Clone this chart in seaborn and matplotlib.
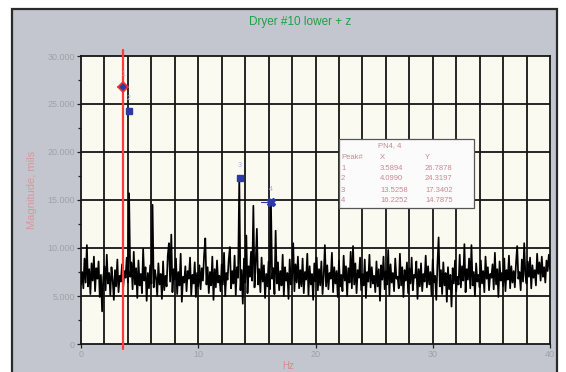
"""
Vibration spectrum recreation: Dryer #10 lower + z
"""

import numpy as np
import pandas as pd
import matplotlib
matplotlib.use("Agg")
import matplotlib.pyplot as plt
from matplotlib.patches import Rectangle
from matplotlib.ticker import FuncFormatter, MultipleLocator
import seaborn as sns

# ---- data -------------------------------------------------------------
# spectrum magnitude (thousands of mils), one value every 0.1 Hz from 0 to 40 Hz
mag_k = [
    6.2, 7.5, 5.8, 8.9, 6.4, 10.3, 6.0, 7.8, 5.2, 8.4,
    6.6, 9.1, 5.5, 7.9, 6.8, 8.6, 4.9, 7.2, 3.4, 6.9,
    8.1, 5.6, 9.3, 6.3, 7.4, 5.1, 8.0, 6.7, 4.6, 7.7,
    6.0, 8.8, 5.4, 7.1, 6.5, 8.3, 5.9, 7.6, 6.9, 9.0,
    6.4, 15.7, 7.0, 8.5, 5.7, 9.6, 6.2, 7.9, 4.8, 8.7,
    6.1, 7.3, 5.3, 9.9, 6.6, 8.0, 4.5, 7.4, 5.8, 8.2,
    6.3, 14.5, 5.9, 7.7, 6.9, 5.0, 8.4, 6.2, 7.3, 4.7,
    8.6, 5.6, 7.1, 6.0, 9.2, 10.5, 6.5, 11.4, 5.4, 7.8,
    6.7, 8.9, 5.2, 7.5, 6.1, 9.4, 4.4, 7.0, 6.4, 8.1,
    5.5, 7.6, 6.8, 9.0, 5.1, 7.2, 6.3, 8.5, 4.9, 7.4,
    6.0, 8.2, 5.7, 7.9, 6.6, 9.3, 11.0, 6.2, 8.0, 5.3,
    7.5, 6.1, 9.1, 4.6, 7.8, 5.9, 8.7, 6.4, 7.1, 5.5,
    8.3, 6.2, 9.5, 5.0, 7.4, 6.7, 8.8, 10.1, 5.8, 7.6,
    6.3, 9.2, 5.1, 8.0, 6.9, 17.3, 5.6, 7.7, 4.2, 8.9,
    6.4, 11.3, 5.3, 8.1, 7.0, 9.6, 6.6, 14.4, 5.9, 8.4,
    12.0, 6.2, 7.8, 5.4, 9.0, 6.5, 8.2, 4.8, 7.3, 6.0,
    8.6, 5.7, 14.8, 6.8, 7.9, 5.2, 11.8, 6.3, 8.5, 5.6,
    7.6, 6.1, 9.3, 5.0, 8.0, 6.6, 7.4, 4.7, 8.8, 6.2,
    7.0, 10.5, 5.5, 8.3, 6.4, 9.1, 5.8, 7.7, 6.0, 8.9,
    5.3, 7.5, 6.7, 9.4, 5.1, 8.1, 6.2, 7.3, 4.6, 8.4,
    6.5, 9.0, 5.6, 7.8, 6.1, 8.6, 5.2, 7.1, 10.3, 6.0,
    8.2, 5.7, 7.4, 6.8, 9.5, 5.4, 8.0, 6.3, 7.6, 4.9,
    8.7, 6.0, 7.2, 5.5, 9.2, 6.6, 8.1, 5.0, 7.9, 6.4,
    9.6, 5.8, 10.2, 6.2, 8.4, 5.3, 7.7, 6.9, 9.0, 5.6,
    7.3, 6.1, 8.8, 4.8, 7.5, 6.5, 9.3, 5.9, 8.0, 6.3,
    7.1, 5.4, 8.6, 6.0, 7.8, 4.5, 8.2, 6.7, 9.1, 5.7,
    7.6, 6.2, 9.8, 5.1, 8.3, 6.4, 7.4, 5.5, 8.9, 6.8,
    7.0, 5.8, 9.4, 6.1, 8.0, 4.9, 7.7, 6.6, 8.5, 5.3,
    7.9, 6.3, 9.0, 5.6, 7.2, 6.9, 8.6, 4.7, 7.8, 6.0,
    8.4, 5.5, 7.3, 6.5, 9.2, 5.9, 8.1, 6.2, 7.5, 5.0,
    8.8, 6.4, 7.1, 4.6, 8.3, 11.1, 6.0, 7.7, 5.2, 8.5,
    6.1, 7.4, 4.4, 8.0, 5.7, 7.2, 3.9, 7.9, 6.3, 8.7,
    5.5, 7.0, 6.2, 9.3, 5.9, 8.1, 6.6, 10.4, 5.4, 7.8,
    6.7, 8.9, 5.8, 10.3, 6.1, 7.5, 5.0, 8.4, 6.5, 7.2,
    5.9, 8.7, 6.3, 7.6, 5.4, 9.1, 6.8, 8.0, 5.6, 7.3,
    6.9, 8.3, 5.7, 9.5, 6.2, 7.8, 4.9, 8.6, 6.6, 7.4,
    6.0, 8.9, 5.5, 7.7, 6.7, 9.2, 5.8, 8.1, 6.4, 7.6,
    5.9, 8.4, 10.2, 6.8, 7.5, 5.6, 8.8, 6.5, 10.5, 7.2,
    6.3, 8.6, 7.0, 9.0, 5.8, 8.2, 6.9, 7.7, 6.1, 9.4,
    7.3, 8.5, 6.6, 9.1, 7.0, 8.0, 6.4, 8.7, 7.6, 9.3,
    7.8,
]
freq_hz = [i / 10 for i in range(len(mag_k))]

# peak list (PN4, 4)
peak_ids = ["1", "2", "3", "4"]
peak_x = [3.5894, 4.0990, 13.5258, 16.2252]
peak_y = [26.7878, 24.3197, 17.3402, 14.7875]  # thousands

cursor_hz = 3.5894

# ---- figure -----------------------------------------------------------
W, H = 566, 372


def fx(px):
    return px / W


def fy(py):
    return 1 - py / H


sns.set_style("ticks")
plt.rcParams["font.family"] = ["Liberation Sans", "DejaVu Sans"]

fig = plt.figure(figsize=(W / 100, H / 100), dpi=100)
fig.patch.set_facecolor("white")

# gray panel with dark frame (behind the axes)
fig.patches.append(Rectangle((fx(12), -0.05), fx(557) - fx(12), fy(9) + 0.05,
                             transform=fig.transFigure, facecolor="#c3c6ce",
                             edgecolor="#2a2a2a", lw=1.6, zorder=-5))

ax = fig.add_axes([fx(81), fy(344), fx(550) - fx(81), fy(56) - fy(344)])
ax.set_facecolor("#fafaf1")

df = pd.DataFrame({"Hz": freq_hz, "mag": np.array(mag_k) * 1000})
sns.lineplot(data=df, x="Hz", y="mag", ax=ax, color="black", lw=1.25, zorder=3)

ax.set_xlim(0, 40)
ax.set_ylim(0, 30000)

# grid: every 2 Hz and every 5000
ax.xaxis.set_major_locator(MultipleLocator(10))
ax.xaxis.set_minor_locator(MultipleLocator(2))
ax.yaxis.set_major_locator(MultipleLocator(5000))
ax.yaxis.set_minor_locator(MultipleLocator(2500))
for gx in np.arange(2, 40, 2):
    ax.axvline(gx, color="#151515", lw=1.3, zorder=1)
for gy in np.arange(5000, 30000, 5000):
    ax.axhline(gy, color="#151515", lw=1.3, zorder=1)

for s in ax.spines.values():
    s.set_color("#151515")
    s.set_linewidth(1.3)

ax.yaxis.set_major_formatter(FuncFormatter(lambda v, p: f"{v:,.0f}".replace(",", ".")))
ax.tick_params(axis="both", which="major", length=3, width=0.9, color="#222222",
               labelsize=6.5, labelcolor="#a0a0a8", pad=1.5)
ax.tick_params(axis="y", which="minor", length=2, width=0.9, color="#222222")
ax.tick_params(axis="x", which="minor", length=0)
ax.set_xlabel("")
ax.set_ylabel("")

# cursor
ax.axvline(cursor_hz, ymin=-0.018, ymax=1.02, color="#ff3b3b", lw=1.6,
           clip_on=False, zorder=4)

# peak markers
ax.plot(peak_x[0], peak_y[0] * 1000, marker="D", ms=5, mfc="#2b3aa8",
        mec="#f03030", mew=1.2, zorder=6)
ax.plot([peak_x[0] - 0.4, peak_x[0] + 0.4], [peak_y[0] * 1000] * 2,
        color="#f03030", lw=1.4, zorder=5)
ax.plot(peak_x[1], peak_y[1] * 1000, marker="s", ms=4.5, color="#2b3aa8", zorder=6)
ax.plot(peak_x[2], peak_y[2] * 1000, marker="s", ms=4.5, color="#2b3aa8", zorder=6)
ax.plot(peak_x[3], peak_y[3] * 1000, marker="X", ms=6, color="#2b3aa8", zorder=6)
ax.plot([peak_x[3] - 0.9, peak_x[3]], [peak_y[3] * 1000] * 2,
        color="#2b3aa8", lw=0.8, zorder=5)
for pid, px_, py_ in zip(peak_ids, peak_x, peak_y):
    ax.text(px_, py_ * 1000 + 900, pid, color="#a9b3e6", fontsize=5,
            ha="center", va="bottom", zorder=6)

# titles / labels
fig.text(fx(300), fy(22), "Dryer #10 lower + z", color="#1ea045", fontsize=8.5,
         ha="center", va="center")
fig.text(fx(32), fy(190), "Magnitude, mils", color="#d49a9a", fontsize=8,
         rotation=90, ha="center", va="center")
fig.text(fx(288), fy(366), "Hz", color="#d88a8a", fontsize=7, ha="center", va="center")

# peak table box
fig.patches.append(Rectangle((fx(339), fy(208)), fx(474) - fx(339), fy(139) - fy(208),
                             transform=fig.transFigure, facecolor="#fbfbfb",
                             edgecolor="#555555", lw=0.9, zorder=5))
tc = "#c88a92"
tk = dict(fontsize=5.5, color=tc, va="center", ha="left", zorder=6)
fig.text(fx(378), fy(146), "PN4, 4", **tk)
fig.text(fx(341), fy(157), "Peak#", **tk)
fig.text(fx(380), fy(157), "X", **tk)
fig.text(fx(425), fy(157), "Y", **tk)
for i, (pid, px_, py_) in enumerate(zip(peak_ids, peak_x, peak_y)):
    yy = 168 + i * 11
    fig.text(fx(341), fy(yy), pid, **tk)
    fig.text(fx(380), fy(yy), f"{px_:.4f}", **tk)
    fig.text(fx(425), fy(yy), f"{py_:.4f}", **tk)

fig.savefig("out.png", dpi=100)
